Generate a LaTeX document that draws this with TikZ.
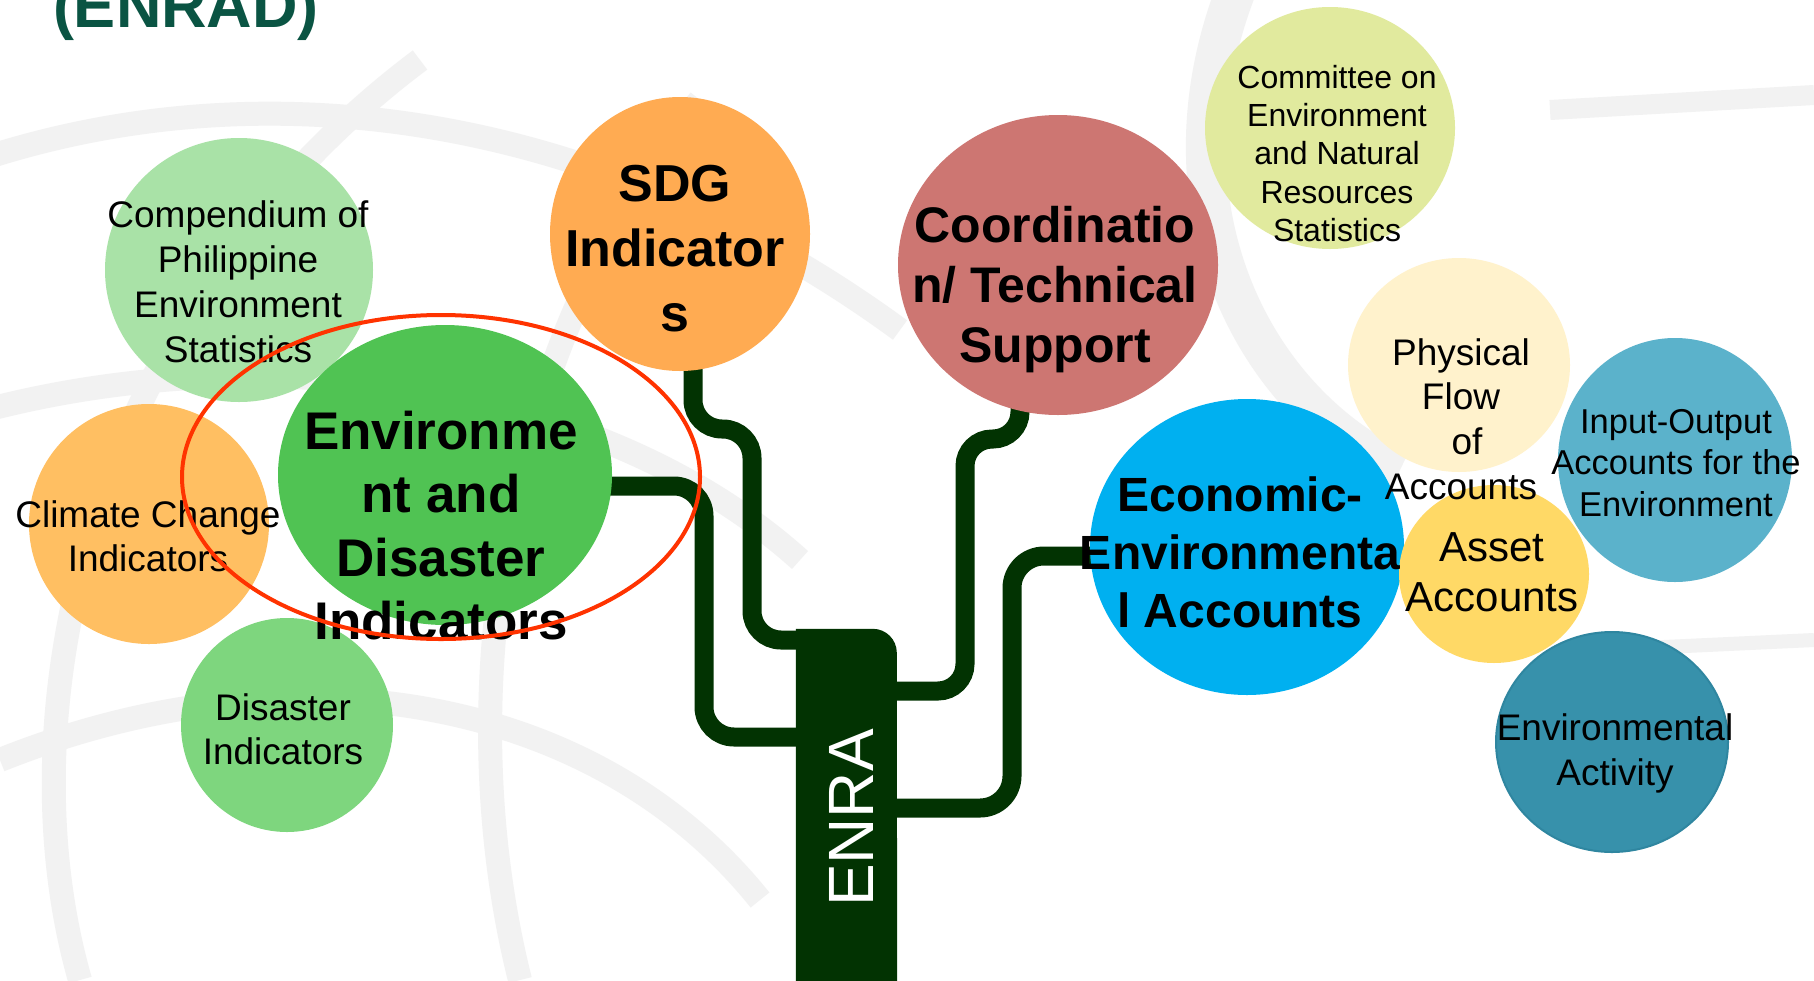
\documentclass[tikz,border=0pt]{standalone}
\usepackage{fontspec}
\setmainfont{Liberation Sans}
\usetikzlibrary{shapes.geometric}
\definecolor{enra}{HTML}{023302}
\definecolor{titlecol}{HTML}{0A5443}
\definecolor{wm}{HTML}{F2F2F2}
\definecolor{cCompendium}{HTML}{A9E2A7}
\definecolor{cClimate}{HTML}{FFBF62}
\definecolor{cDisaster}{HTML}{7ED67E}
\definecolor{cEnv}{HTML}{50C353}
\definecolor{cSDG}{HTML}{FFAB52}
\definecolor{cCoord}{HTML}{CD7672}
\definecolor{cCommittee}{HTML}{E1EA9E}
\definecolor{cEcon}{HTML}{00B0F0}
\definecolor{cIO}{HTML}{5BB2CB}
\definecolor{cPhys}{HTML}{FFF2CC}
\definecolor{cAsset}{HTML}{FFD966}
\definecolor{cAct}{HTML}{3791AB}
\definecolor{cActLine}{HTML}{2F86A0}
\definecolor{redring}{HTML}{FF3300}
\tikzset{
  bubble/.style={ellipse, inner sep=0pt, outer sep=0pt, draw=none},
  branch/.style={draw=enra, line width=19pt},
  wmline/.style={draw=wm, line width=24pt},
  lbl/.style={anchor=north, align=center, inner sep=0pt, text=black},
}
\begin{document}
\begin{tikzpicture}[x=1pt,y=-1pt]
\useasboundingbox (0,0) rectangle (1814,980);
\clip (0,0) rectangle (1814,980);
\fill[white] (0,0) rectangle (1814,980);
% faint watermark
\draw[wmline] (-50,170) .. controls (250,60) and (600,110) .. (900,330);
\draw[wmline] (-50,420) .. controls (250,330) and (600,380) .. (800,560);
\draw[wmline] (0,760) .. controls (300,640) and (600,700) .. (760,900);
\draw[wmline] (80,980) .. controls (0,700) and (100,300) .. (420,60);
\draw[wmline] (520,980) .. controls (450,700) and (500,350) .. (700,100);
\draw[wm, line width=40pt] (1240,-20) .. controls (1150,200) and (1250,400) .. (1400,470);
\draw[wm, line width=20pt] (1550,110) -- (1814,95);
\draw[wm, line width=14pt] (1600,650) -- (1814,640);
% title
\node[anchor=base, inner sep=0pt, text=titlecol, font=\fontsize{63}{63}\selectfont\bfseries] (title) at (186,27) {(ENRAD)};
% trunk
\node[minimum width=101pt, minimum height=420pt, inner sep=0pt] (trunk) at (846.5,839) {};
\fill[enra] (trunk.north west) -- ++(77,0) arc[start angle=-90, end angle=0, radius=24] -- (trunk.south east) -- (trunk.south west) -- cycle;
\node[rotate=90, text=white, inner sep=0pt, font=\fontsize{64}{64}\selectfont] (enra) at (851,818) {ENRA};
% circles (named first so branches can refer to them; filled later on top)
\path
  (239,270) node[bubble, minimum width=268pt, minimum height=264pt] (comp) {}
  (149,524) node[bubble, minimum width=240pt, minimum height=240pt] (clim) {}
  (287,725) node[bubble, minimum width=212pt, minimum height=214pt] (dis) {}
  (445,475) node[bubble, minimum width=334pt, minimum height=300pt] (env) {}
  (680,234) node[bubble, minimum width=260pt, minimum height=274pt] (sdg) {}
  (1058,265) node[bubble, minimum width=320pt, minimum height=300pt] (coord) {}
  (1330,128) node[bubble, minimum width=250pt, minimum height=242pt] (comm) {}
  (1247,547) node[bubble, minimum width=314pt, minimum height=296pt] (econ) {}
  (1675,460) node[bubble, minimum width=234pt, minimum height=244pt] (io) {}
  (1459,365) node[bubble, minimum width=222pt, minimum height=214pt] (phys) {}
  (1612,742) node[bubble, minimum width=234pt, minimum height=222pt] (act) {}
  (1494,574) node[bubble, minimum width=190pt, minimum height=178pt] (asset) {};
% branches
\draw[branch, rounded corners=29pt] (sdg.center -| 693,0) -- (693,429) -- (752,429) -- (752,640) -- (trunk.west |- 0,640);
\draw[branch, rounded corners=30pt] (env.center |- 0,486) -- (704,486) -- (704,737) -- (trunk.west |- 0,737);
\draw[branch, rounded corners=27pt] (coord.center -| 1020,0) -- (1020,439) -- (965,439) -- (965,691) -- (trunk.east |- 0,691);
\draw[branch, rounded corners=32pt] (econ.center |- 0,556) -- (1012,556) -- (1012,808) -- (trunk.east |- 0,808);
% fill circles
\fill[cCompendium] (comp.center) ellipse [x radius=134, y radius=132];
\fill[cClimate] (clim.center) ellipse [x radius=120, y radius=120];
\fill[cDisaster] (dis.center) ellipse [x radius=106, y radius=107];
\fill[cEnv] (env.center) ellipse [x radius=167, y radius=150];
\fill[cSDG] (sdg.center) ellipse [x radius=130, y radius=137];
\fill[cCoord] (coord.center) ellipse [x radius=160, y radius=150];
\fill[cCommittee] (comm.center) ellipse [x radius=125, y radius=121];
\fill[cEcon] (econ.center) ellipse [x radius=157, y radius=148];
\fill[cIO] (io.center) ellipse [x radius=117, y radius=122];
\fill[cPhys] (phys.center) ellipse [x radius=111, y radius=107];
\filldraw[fill=cAct, draw=cActLine, line width=2pt] (act.center) ellipse [x radius=116, y radius=110];
\fill[cAsset] (asset.center) ellipse [x radius=95, y radius=89];
% labels
\node[lbl, font=\fontsize{37}{45}\selectfont] (compT) at (238,200) {Compendium of\\Philippine\\Environment\\Statistics};
\node[lbl, font=\fontsize{37}{44}\selectfont] (climT) at (148,500) {Climate Change\\Indicators};
\node[lbl, font=\fontsize{37}{44}\selectfont] (disT) at (283,693) {Disaster\\Indicators};
\node[lbl, font=\fontsize{53}{63.3}\selectfont\bfseries] (envT) at (441,411) {Environme\\nt and\\Disaster\\Indicators};
\node[lbl, font=\fontsize{52}{65}\selectfont\bfseries] (sdgT) at (675,165) {SDG\\Indicator\\s};
\node[lbl, font=\fontsize{50}{60}\selectfont\bfseries] (coordT) at (1055,206) {Coordinatio\\n/ Technical\\Support};
\node[lbl, font=\fontsize{32}{38.3}\selectfont] (commT) at (1337,65) {Committee on\\Environment\\and Natural\\Resources\\Statistics};
\node[lbl, font=\fontsize{48}{58}\selectfont\bfseries] (econT) at (1240,477) {Economic-\\Environmenta\\l Accounts};
\node[lbl, font=\fontsize{37}{44.7}\selectfont] (physT) at (1461,338) {Physical\\Flow\\\hspace*{12pt}of\\Accounts};
\node[lbl, font=\fontsize{34.5}{41.5}\selectfont] (ioT) at (1676,409) {Input-Output\\Accounts for the\\Environment};
\node[lbl, font=\fontsize{42}{50}\selectfont] (assetT) at (1492,532) {Asset\\Accounts};
\node[lbl, font=\fontsize{37}{45}\selectfont] (actT) at (1615,713) {Environmental\\Activity};
% highlight ring
\draw[redring, line width=4pt] (env.center) ++(-4,2) ellipse [x radius=259, y radius=162];
\end{tikzpicture}
\end{document}
